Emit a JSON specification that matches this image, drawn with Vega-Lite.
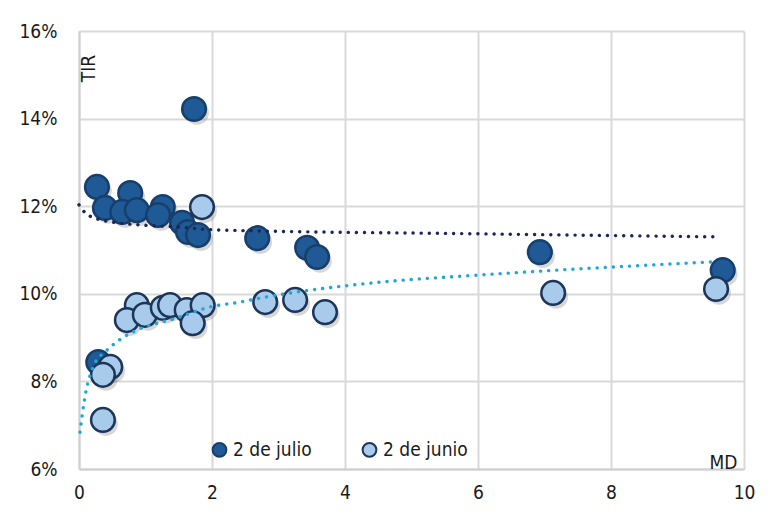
{
  "$schema": "https://vega.github.io/schema/vega-lite/v6.json",
  "width": 665,
  "height": 438,
  "autosize": {"type": "none"},
  "padding": {"left": 79, "top": 31, "right": 36, "bottom": 58},
  "background": "white",
  "config": {
    "view": {"stroke": null},
    "font": "DejaVu Sans Condensed",
    "axis": {
      "labelFont": "DejaVu Sans Condensed",
      "titleFont": "DejaVu Sans Condensed",
      "labelFontSize": 19,
      "titleFontSize": 19,
      "labelColor": "#1a1a1a",
      "titleColor": "#1a1a1a",
      "titleFontWeight": "normal",
      "gridColor": "#d9d9d9",
      "gridWidth": 2,
      "domainColor": "#d0d0d0",
      "domainWidth": 2,
      "ticks": false,
      "labelFlush": false
    },
    "legend": {
      "labelFont": "DejaVu Sans Condensed",
      "labelFontSize": 19,
      "labelColor": "#1a1a1a"
    }
  },
  "datasets": {
    "puntos": [
      {"md": 1.73, "tir": 14.22, "serie": "2 de julio"},
      {"md": 0.27, "tir": 12.44, "serie": "2 de julio"},
      {"md": 0.77, "tir": 12.3, "serie": "2 de julio"},
      {"md": 0.39, "tir": 11.96, "serie": "2 de julio"},
      {"md": 0.65, "tir": 11.87, "serie": "2 de julio"},
      {"md": 0.87, "tir": 11.91, "serie": "2 de julio"},
      {"md": 1.26, "tir": 11.98, "serie": "2 de julio"},
      {"md": 1.19, "tir": 11.8, "serie": "2 de julio"},
      {"md": 1.55, "tir": 11.62, "serie": "2 de julio"},
      {"md": 1.64, "tir": 11.41, "serie": "2 de julio"},
      {"md": 1.79, "tir": 11.34, "serie": "2 de julio"},
      {"md": 2.68, "tir": 11.27, "serie": "2 de julio"},
      {"md": 3.43, "tir": 11.05, "serie": "2 de julio"},
      {"md": 3.58, "tir": 10.84, "serie": "2 de julio"},
      {"md": 6.93, "tir": 10.95, "serie": "2 de julio"},
      {"md": 9.68, "tir": 10.54, "serie": "2 de julio"},
      {"md": 0.29, "tir": 8.44, "serie": "2 de julio"},
      {"md": 1.85, "tir": 11.98, "serie": "2 de junio"},
      {"md": 0.87, "tir": 9.74, "serie": "2 de junio"},
      {"md": 0.72, "tir": 9.4, "serie": "2 de junio"},
      {"md": 0.99, "tir": 9.52, "serie": "2 de junio"},
      {"md": 1.26, "tir": 9.68, "serie": "2 de junio"},
      {"md": 1.37, "tir": 9.74, "serie": "2 de junio"},
      {"md": 1.62, "tir": 9.63, "serie": "2 de junio"},
      {"md": 1.86, "tir": 9.74, "serie": "2 de junio"},
      {"md": 1.71, "tir": 9.33, "serie": "2 de junio"},
      {"md": 0.47, "tir": 8.33, "serie": "2 de junio"},
      {"md": 0.36, "tir": 8.15, "serie": "2 de junio"},
      {"md": 0.36, "tir": 7.12, "serie": "2 de junio"},
      {"md": 2.8, "tir": 9.81, "serie": "2 de junio"},
      {"md": 3.25, "tir": 9.86, "serie": "2 de junio"},
      {"md": 3.7, "tir": 9.58, "serie": "2 de junio"},
      {"md": 7.13, "tir": 10.02, "serie": "2 de junio"},
      {"md": 9.58, "tir": 10.11, "serie": "2 de junio"}
    ],
    "tendencia": [
      {"md": 0.0, "tir": 12.03, "serie": "julio"},
      {"md": 0.1, "tir": 11.84, "serie": "julio"},
      {"md": 0.35, "tir": 11.68, "serie": "julio"},
      {"md": 0.95, "tir": 11.57, "serie": "julio"},
      {"md": 1.44, "tir": 11.53, "serie": "julio"},
      {"md": 2.05, "tir": 11.46, "serie": "julio"},
      {"md": 6.0, "tir": 11.37, "serie": "julio"},
      {"md": 9.6, "tir": 11.3, "serie": "julio"},
      {"md": 0.015, "tir": 6.84, "serie": "junio"},
      {"md": 0.075, "tir": 7.51, "serie": "junio"},
      {"md": 0.24, "tir": 8.42, "serie": "junio"},
      {"md": 0.39, "tir": 8.67, "serie": "junio"},
      {"md": 0.65, "tir": 8.99, "serie": "junio"},
      {"md": 0.87, "tir": 9.17, "serie": "junio"},
      {"md": 1.47, "tir": 9.45, "serie": "junio"},
      {"md": 1.97, "tir": 9.7, "serie": "junio"},
      {"md": 2.42, "tir": 9.81, "serie": "junio"},
      {"md": 2.72, "tir": 9.9, "serie": "junio"},
      {"md": 4.42, "tir": 10.25, "serie": "junio"},
      {"md": 6.03, "tir": 10.43, "serie": "junio"},
      {"md": 9.53, "tir": 10.73, "serie": "junio"}
    ]
  },
  "layer": [
    {
      "data": {"name": "puntos"},
      "mark": {"type": "point", "shape": "circle", "filled": true, "size": 560, "color": "#7a7a7a", "opacity": 0.3, "xOffset": 3, "yOffset": 4, "strokeWidth": 0},
      "encoding": {
        "x": {
          "field": "md", "type": "quantitative",
          "scale": {"domain": [0, 10], "nice": false, "zero": false},
          "axis": {
            "values": [0, 2, 4, 6, 8, 10],
            "format": "d",
            "title": "MD",
            "titleX": 644,
            "titleY": -1,
            "titleAlign": "center",
            "titleBaseline": "alphabetic",
            "labelPadding": 14
          }
        },
        "y": {
          "field": "tir", "type": "quantitative",
          "scale": {"domain": [6, 16], "nice": false, "zero": false},
          "axis": {
            "values": [6, 8, 10, 12, 14, 16],
            "labelExpr": "datum.value + '%'",
            "labelPadding": 22,
            "title": "TIR",
            "titleX": 9,
            "titleY": 37,
            "titleAngle": -90,
            "titleAlign": "center",
            "titleBaseline": "middle"
          }
        }
      }
    },
    {
      "data": {"name": "puntos"},
      "mark": {"type": "point", "shape": "circle", "filled": true, "size": 560, "strokeWidth": 2.5, "opacity": 1},
      "encoding": {
        "x": {"field": "md", "type": "quantitative"},
        "y": {"field": "tir", "type": "quantitative"},
        "fill": {
          "field": "serie", "type": "nominal",
          "scale": {"domain": ["2 de julio", "2 de junio"], "range": ["#1f5a96", "#a9cbeb"]},
          "legend": {
            "title": null,
            "orient": "none",
            "legendX": 131,
            "legendY": 409,
            "direction": "horizontal",
            "symbolType": "circle",
            "symbolSize": 190,
            "symbolStrokeWidth": 2,
            "symbolOpacity": 1,
            "labelOffset": 4,
            "columnPadding": 46
          }
        },
        "stroke": {
          "field": "serie", "type": "nominal",
          "scale": {"domain": ["2 de julio", "2 de junio"], "range": ["#173f6b", "#1c3558"]},
          "legend": {
            "title": null,
            "orient": "none",
            "legendX": 131,
            "legendY": 409,
            "direction": "horizontal",
            "symbolType": "circle",
            "symbolSize": 190,
            "symbolStrokeWidth": 2,
            "symbolOpacity": 1,
            "labelOffset": 4,
            "columnPadding": 46
          }
        },
        "order": {"field": "serie", "sort": "ascending"}
      }
    },
    {
      "data": {"name": "tendencia"},
      "mark": {"type": "line", "interpolate": "monotone", "strokeWidth": 3.4, "strokeDash": [0.1, 8], "strokeCap": "round"},
      "encoding": {
        "x": {"field": "md", "type": "quantitative"},
        "y": {"field": "tir", "type": "quantitative"},
        "detail": {"field": "serie", "type": "nominal"},
        "color": {
          "field": "serie", "type": "nominal",
          "scale": {"domain": ["julio", "junio"], "range": ["#1b2657", "#21a7d6"]},
          "legend": null
        }
      }
    }
  ]
}
